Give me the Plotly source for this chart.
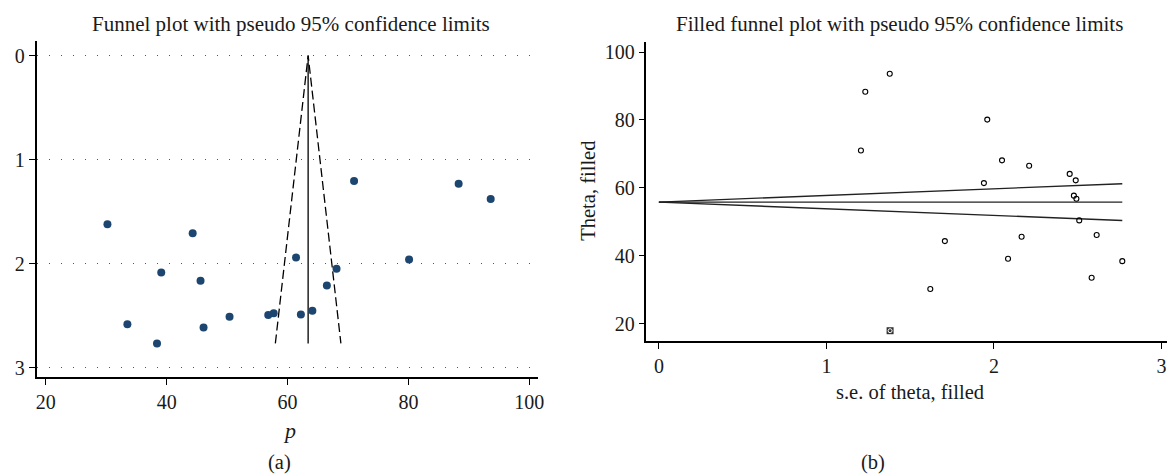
import plotly.graph_objects as go
import numpy as np

# ---- data ----
study_p = [30.2, 44.3, 71.0, 88.3, 93.6, 61.4, 80.1, 68.1, 39.1, 45.6,
           66.5, 64.1, 62.2, 57.7, 56.8, 50.4, 33.5, 46.1, 38.4]
study_se = [1.62, 1.707, 1.206, 1.232, 1.378, 1.94, 1.96, 2.048, 2.084, 2.165,
            2.21, 2.452, 2.488, 2.477, 2.492, 2.509, 2.583, 2.613, 2.766]
pooled_p = 63.4          # pooled estimate, panel (a)
pooled_filled = 55.8     # pooled estimate after trim-and-fill, panel (b)
filled_theta = [17.9]    # imputed study
filled_se = [1.38]
z95 = 1.96

left_xticks = [20, 40, 60, 80, 100]
left_yticks = [0, 1, 2, 3]
right_xticks = [0, 1, 2, 3]
right_yticks = [20, 40, 60, 80, 100]

W, H = 1175, 476
OFF = 8  # page body margin
FONT = "Liberation Serif"
TXT = "#1a1a1a"
DOT_BLUE = "#1c4670"

def px(x):
    return (x - OFF) / W

def py(y):
    return 1 - (y - OFF) / H

fig = go.Figure()

max_se = max(study_se)

# ---- panel (a) ----
fig.add_trace(go.Scatter(
    x=[pooled_p, pooled_p], y=[0, max_se], mode="lines",
    line=dict(color="black", width=1.3), xaxis="x", yaxis="y", showlegend=False))
fig.add_trace(go.Scatter(
    x=[pooled_p - z95 * max_se, pooled_p, pooled_p + z95 * max_se],
    y=[max_se, 0, max_se], mode="lines",
    line=dict(color="black", width=1.3, dash="9px,4px"),
    xaxis="x", yaxis="y", showlegend=False))
fig.add_trace(go.Scatter(
    x=study_p, y=study_se, mode="markers",
    marker=dict(color=DOT_BLUE, size=8, line=dict(width=0)),
    xaxis="x", yaxis="y", showlegend=False))

# ---- panel (b) ----
fig.add_trace(go.Scatter(
    x=[0, max_se], y=[pooled_filled, pooled_filled], mode="lines",
    line=dict(color="#222", width=1.4), xaxis="x2", yaxis="y2", showlegend=False))
fig.add_trace(go.Scatter(
    x=[0, max_se], y=[pooled_filled, pooled_filled + z95 * max_se], mode="lines",
    line=dict(color="#222", width=1.4), xaxis="x2", yaxis="y2", showlegend=False))
fig.add_trace(go.Scatter(
    x=[0, max_se], y=[pooled_filled, pooled_filled - z95 * max_se], mode="lines",
    line=dict(color="#222", width=1.4), xaxis="x2", yaxis="y2", showlegend=False))
fig.add_trace(go.Scatter(
    x=study_se, y=study_p, mode="markers",
    marker=dict(symbol="circle-open", color="black", size=5, line=dict(width=1.1)),
    xaxis="x2", yaxis="y2", showlegend=False))
fig.add_trace(go.Scatter(
    x=filled_se, y=filled_theta, mode="markers",
    marker=dict(symbol="square", color="#333", size=7, line=dict(width=0)),
    xaxis="x2", yaxis="y2", showlegend=False))
fig.add_trace(go.Scatter(
    x=filled_se, y=filled_theta, mode="markers",
    marker=dict(symbol="circle-open", color="white", size=4, line=dict(width=1)),
    xaxis="x2", yaxis="y2", showlegend=False))

axis_common = dict(
    showline=True, linecolor="black", linewidth=1.5,
    ticks="outside", ticklen=6, tickwidth=1.3, tickcolor="black",
    tickfont=dict(family=FONT, size=20, color=TXT),
    zeroline=False, mirror=False,
)

fig.update_layout(
    width=W, height=H,
    margin=dict(l=0, r=0, t=0, b=0),
    paper_bgcolor="white", plot_bgcolor="white",
    showlegend=False,
    xaxis=dict(axis_common, domain=[px(35.7), px(540)], range=[18.47, 101.4],
               tickvals=left_xticks, showgrid=False, anchor="y"),
    yaxis=dict(axis_common, domain=[py(378.7), py(40.7)], range=[3.09, -0.144],
               tickvals=left_yticks, showgrid=True, gridcolor="#555",
               gridwidth=1.3, griddash="1.3px,10.7px", anchor="x"),
    xaxis2=dict(axis_common, domain=[px(649.3), px(1175)], range=[-0.074, 3.045],
                tickvals=right_xticks, showgrid=False, anchor="y2"),
    yaxis2=dict(axis_common, domain=[py(342.3), py(41.7)], range=[14.9, 103.1],
                tickvals=right_yticks, showgrid=False, anchor="x2"),
)

def ann(text, x, y, size=20.5, angle=0):
    fig.add_annotation(text=text, x=px(x), y=py(y), xref="paper", yref="paper",
                       showarrow=False, xanchor="center", yanchor="middle",
                       textangle=angle,
                       font=dict(family=FONT, size=size, color=TXT))

ann("Funnel plot with pseudo 95% confidence limits", 291.7, 24, size=21)
ann("Filled funnel plot with pseudo 95% confidence limits", 904, 24, size=21)
ann("<i>p</i>", 290, 432, size=22)
ann("s.e. of theta, filled", 914, 394)
ann("Theta, filled", 591, 192, angle=-90)
ann("(a)", 280, 464)
ann("(b)", 877, 464)

fig.write_html("out.html")
